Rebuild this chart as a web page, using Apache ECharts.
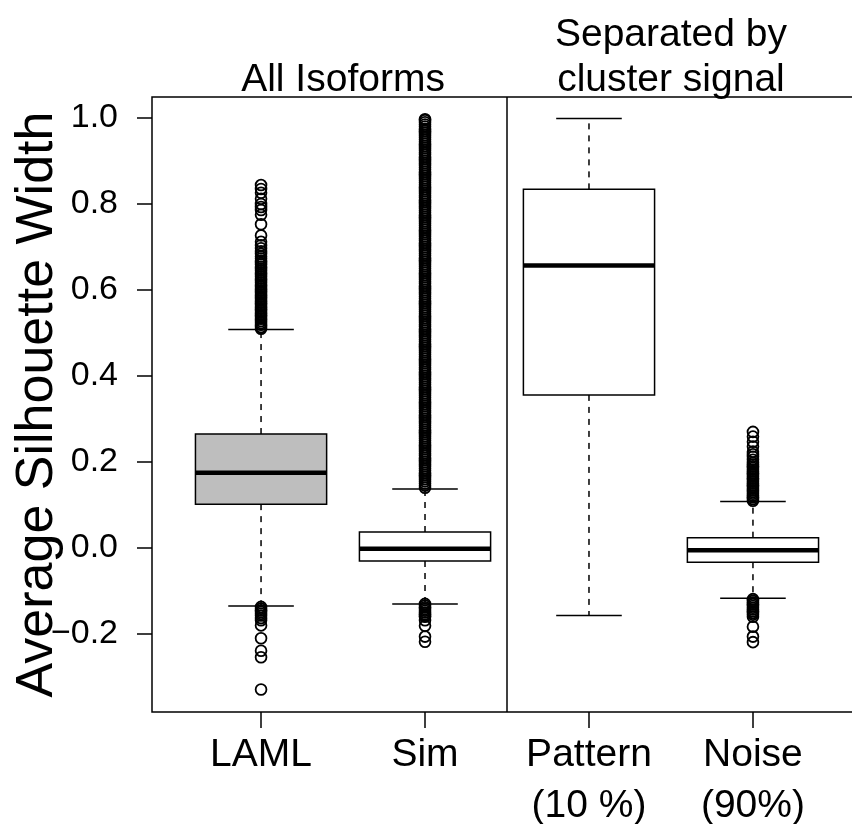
<!DOCTYPE html>
<html>
<head>
<meta charset="utf-8">
<script src="https://cdn.jsdelivr.net/npm/echarts@6.0.0/dist/echarts.min.js"></script>
<style>
  html, body { margin: 0; padding: 0; background: #fff; }
  #chart { width: 852px; height: 824px; }
</style>
</head>
<body>
<div id="chart"></div>
<script>
// ---------------- data ----------------
const categories = ['LAML', 'Sim', 'Pattern\n(10 %)', 'Noise\n(90%)'];
const panelTitles = ['All Isoforms', 'Separated by\ncluster signal'];
const panelMembers = [[0, 1], [2, 3]];
const yTicks = [-0.2, 0.0, 0.2, 0.4, 0.6, 0.8, 1.0];

const lowerWhisker = [-0.135, -0.130, -0.157, -0.117];
const q1           = [ 0.102, -0.030,  0.356, -0.033];
const median       = [ 0.175, -0.002,  0.657, -0.005];
const q3           = [ 0.265,  0.037,  0.834,  0.024];
const upperWhisker = [ 0.508,  0.137,  0.999,  0.108];

const lamlOutliers = [
  0.510, 0.514, 0.519, 0.523, 0.528, 0.533, 0.537, 0.542, 0.547, 0.551,
  0.556, 0.561, 0.565, 0.570, 0.575, 0.579, 0.584, 0.589, 0.593, 0.598,
  0.603, 0.607, 0.612, 0.617, 0.621, 0.626, 0.631, 0.635, 0.640, 0.645,
  0.649, 0.654, 0.659, 0.663, 0.668, 0.673, 0.678, 0.684, 0.690, 0.697,
  0.704, 0.712, 0.727, 0.753, 0.775, 0.786, 0.793, 0.800, 0.812, 0.826,
  0.835, 0.844,
  -0.137, -0.141, -0.145, -0.149, -0.153, -0.157, -0.163, -0.168, -0.180,
  -0.210, -0.239, -0.254, -0.329
];
const simOutliers = [
  0.140, 0.145, 0.150, 0.155, 0.160, 0.165, 0.170, 0.175, 0.180, 0.185,
  0.190, 0.195, 0.200, 0.205, 0.210, 0.215, 0.220, 0.225, 0.230, 0.235,
  0.240, 0.245, 0.250, 0.255, 0.260, 0.265, 0.270, 0.275, 0.280, 0.285,
  0.290, 0.295, 0.300, 0.305, 0.310, 0.315, 0.320, 0.325, 0.330, 0.335,
  0.340, 0.345, 0.350, 0.355, 0.360, 0.365, 0.370, 0.375, 0.380, 0.385,
  0.390, 0.395, 0.400, 0.405, 0.410, 0.415, 0.420, 0.425, 0.430, 0.435,
  0.440, 0.445, 0.450, 0.455, 0.460, 0.465, 0.470, 0.475, 0.480, 0.485,
  0.490, 0.495, 0.500, 0.505, 0.510, 0.515, 0.520, 0.525, 0.530, 0.535,
  0.540, 0.545, 0.550, 0.555, 0.560, 0.565, 0.570, 0.575, 0.580, 0.585,
  0.590, 0.595, 0.600, 0.605, 0.610, 0.615, 0.620, 0.625, 0.630, 0.635,
  0.640, 0.645, 0.650, 0.655, 0.660, 0.665, 0.670, 0.675, 0.680, 0.685,
  0.690, 0.695, 0.700, 0.705, 0.710, 0.715, 0.720, 0.725, 0.730, 0.735,
  0.740, 0.745, 0.750, 0.755, 0.760, 0.765, 0.770, 0.775, 0.780, 0.785,
  0.790, 0.795, 0.800, 0.805, 0.810, 0.815, 0.820, 0.825, 0.830, 0.835,
  0.840, 0.845, 0.850, 0.855, 0.860, 0.865, 0.870, 0.875, 0.880, 0.885,
  0.890, 0.895, 0.900, 0.905, 0.910, 0.915, 0.920, 0.925, 0.930, 0.935,
  0.940, 0.945, 0.950, 0.955, 0.960, 0.965, 0.970, 0.975, 0.980, 0.985,
  0.990, 0.995, 0.997,
  -0.130, -0.134, -0.138, -0.142, -0.146, -0.150, -0.154, -0.158, -0.160,
  -0.168, -0.181, -0.206, -0.218
];
const patternOutliers = [];
const noiseOutliers = [
  0.110, 0.114, 0.118, 0.122, 0.126, 0.130, 0.134, 0.138, 0.142, 0.146,
  0.150, 0.154, 0.158, 0.162, 0.166, 0.170, 0.174, 0.178, 0.182, 0.186,
  0.190, 0.194, 0.198, 0.205, 0.212, 0.218, 0.224, 0.236, 0.247, 0.259,
  0.270,
  -0.119, -0.123, -0.127, -0.131, -0.135, -0.139, -0.143, -0.147, -0.151,
  -0.155, -0.160, -0.183, -0.206, -0.219
];
const outliers = [lamlOutliers, simOutliers, patternOutliers, noiseOutliers];

// ---------------- layout / style ----------------
const xMin = 0.335, xMax = 4.665;
const yMin = -0.3814, yMax = 1.0488;
const boxFill = ['#bebebe', '#ffffff', '#ffffff', '#ffffff'];
const FONT = '"Liberation Sans", Arial, Helvetica, sans-serif';

const boxData = categories.map((c, i) => [i + 1, lowerWhisker[i], q1[i], median[i], q3[i], upperWhisker[i]]);
const outlierData = [];
outliers.forEach((arr, i) => arr.forEach(v => outlierData.push([i + 1, v])));
const panelCenters = panelMembers.map(m => m.reduce((s, k) => s + k + 1, 0) / m.length);
const dividers = [];
for (let g = 0; g < panelMembers.length - 1; g++) {
  const a = panelMembers[g][panelMembers[g].length - 1] + 1;
  const b = panelMembers[g + 1][0] + 1;
  dividers.push((a + b) / 2);
}

function renderBox(params, api) {
  const i = params.dataIndex;
  const x = api.value(0);
  const lw = api.coord([x, api.value(1)]);
  const lo = api.coord([x, api.value(2)]);
  const md = api.coord([x, api.value(3)]);
  const hi = api.coord([x, api.value(4)]);
  const uw = api.coord([x, api.value(5)]);
  const half = api.size([0.8, 0])[0] / 2;
  const staple = half / 2;
  const cx = md[0];
  const lineStyle = { stroke: '#000', lineWidth: 1.5, fill: null };
  const dashStyle = { stroke: '#000', lineWidth: 1.5, lineDash: [6, 6], fill: null };
  return {
    type: 'group',
    children: [
      { type: 'line', shape: { x1: cx, y1: hi[1], x2: cx, y2: uw[1] }, style: dashStyle },
      { type: 'line', shape: { x1: cx, y1: lo[1], x2: cx, y2: lw[1] }, style: dashStyle },
      { type: 'line', shape: { x1: cx - staple, y1: uw[1], x2: cx + staple, y2: uw[1] }, style: lineStyle },
      { type: 'line', shape: { x1: cx - staple, y1: lw[1], x2: cx + staple, y2: lw[1] }, style: lineStyle },
      { type: 'rect', shape: { x: cx - half, y: hi[1], width: 2 * half, height: lo[1] - hi[1] },
        style: { fill: boxFill[i], stroke: '#000', lineWidth: 1.5 } },
      { type: 'line', shape: { x1: cx - half, y1: md[1], x2: cx + half, y2: md[1] },
        style: { stroke: '#000', lineWidth: 4.5 } }
    ]
  };
}

const chart = echarts.init(document.getElementById('chart'), null, { renderer: 'canvas' });
chart.setOption({
  animation: false,
  backgroundColor: '#fff',
  textStyle: { fontFamily: FONT, color: '#000' },
  grid: {
    left: 152, top: 97, bottom: 112, right: -10,
    show: true, borderColor: '#000', borderWidth: 1.5,
    containLabel: false, outerBoundsMode: 'none'
  },
  xAxis: [{
    type: 'value', min: xMin, max: xMax, position: 'bottom',
    axisLine: { show: false, onZero: false },
    splitLine: { show: false },
    axisTick: { show: true, length: 16, customValues: categories.map((c, i) => i + 1),
      lineStyle: { color: '#000', width: 1.5 } },
    axisLabel: {
      customValues: categories.map((c, i) => i + 1),
      formatter: v => categories[Math.round(v) - 1],
      fontFamily: FONT, fontSize: 39, lineHeight: 51, color: '#000', margin: 18
    }
  }, {
    type: 'value', min: xMin, max: xMax, position: 'top',
    axisLine: { show: false, onZero: false },
    splitLine: { show: false },
    axisTick: { show: false },
    axisLabel: {
      customValues: panelCenters,
      formatter: v => panelTitles[panelCenters.findIndex(c => Math.abs(c - v) < 1e-6)],
      fontFamily: FONT, fontSize: 39, lineHeight: 45, color: '#000', margin: -6
    }
  }],
  yAxis: {
    type: 'value', min: yMin, max: yMax,
    name: 'Average Silhouette Width', nameLocation: 'middle', nameGap: 88,
    nameMoveOverlap: false,
    nameTextStyle: { fontFamily: FONT, fontSize: 52, color: '#000' },
    axisLine: { show: false },
    splitLine: { show: false },
    axisTick: { show: true, length: 15, customValues: yTicks, lineStyle: { color: '#000', width: 1.5 } },
    axisLabel: {
      customValues: yTicks,
      formatter: v => (v < -1e-9 ? '\u2212' : '') + Math.abs(v).toFixed(1),
      fontFamily: FONT, fontSize: 34, color: '#000', margin: 34
    }
  },
  series: [{
    type: 'custom',
    renderItem: renderBox,
    data: boxData,
    xAxisIndex: 0,
    encode: { x: 0, y: [1, 2, 3, 4, 5] },
    z: 2,
    markLine: {
      silent: true, symbol: ['none', 'none'],
      label: { show: false },
      lineStyle: { color: '#000', width: 1.5, type: 'solid' },
      data: dividers.map(d => ({ xAxis: d }))
    }
  }, {
    type: 'scatter',
    data: outlierData,
    xAxisIndex: 0,
    symbol: 'circle',
    symbolSize: 10.8,
    itemStyle: { color: 'rgba(0,0,0,0)', borderColor: '#000', borderWidth: 1.8, opacity: 1 },
    emphasis: { disabled: true },
    large: false,
    z: 3
  }]
});
</script>
</body>
</html>
